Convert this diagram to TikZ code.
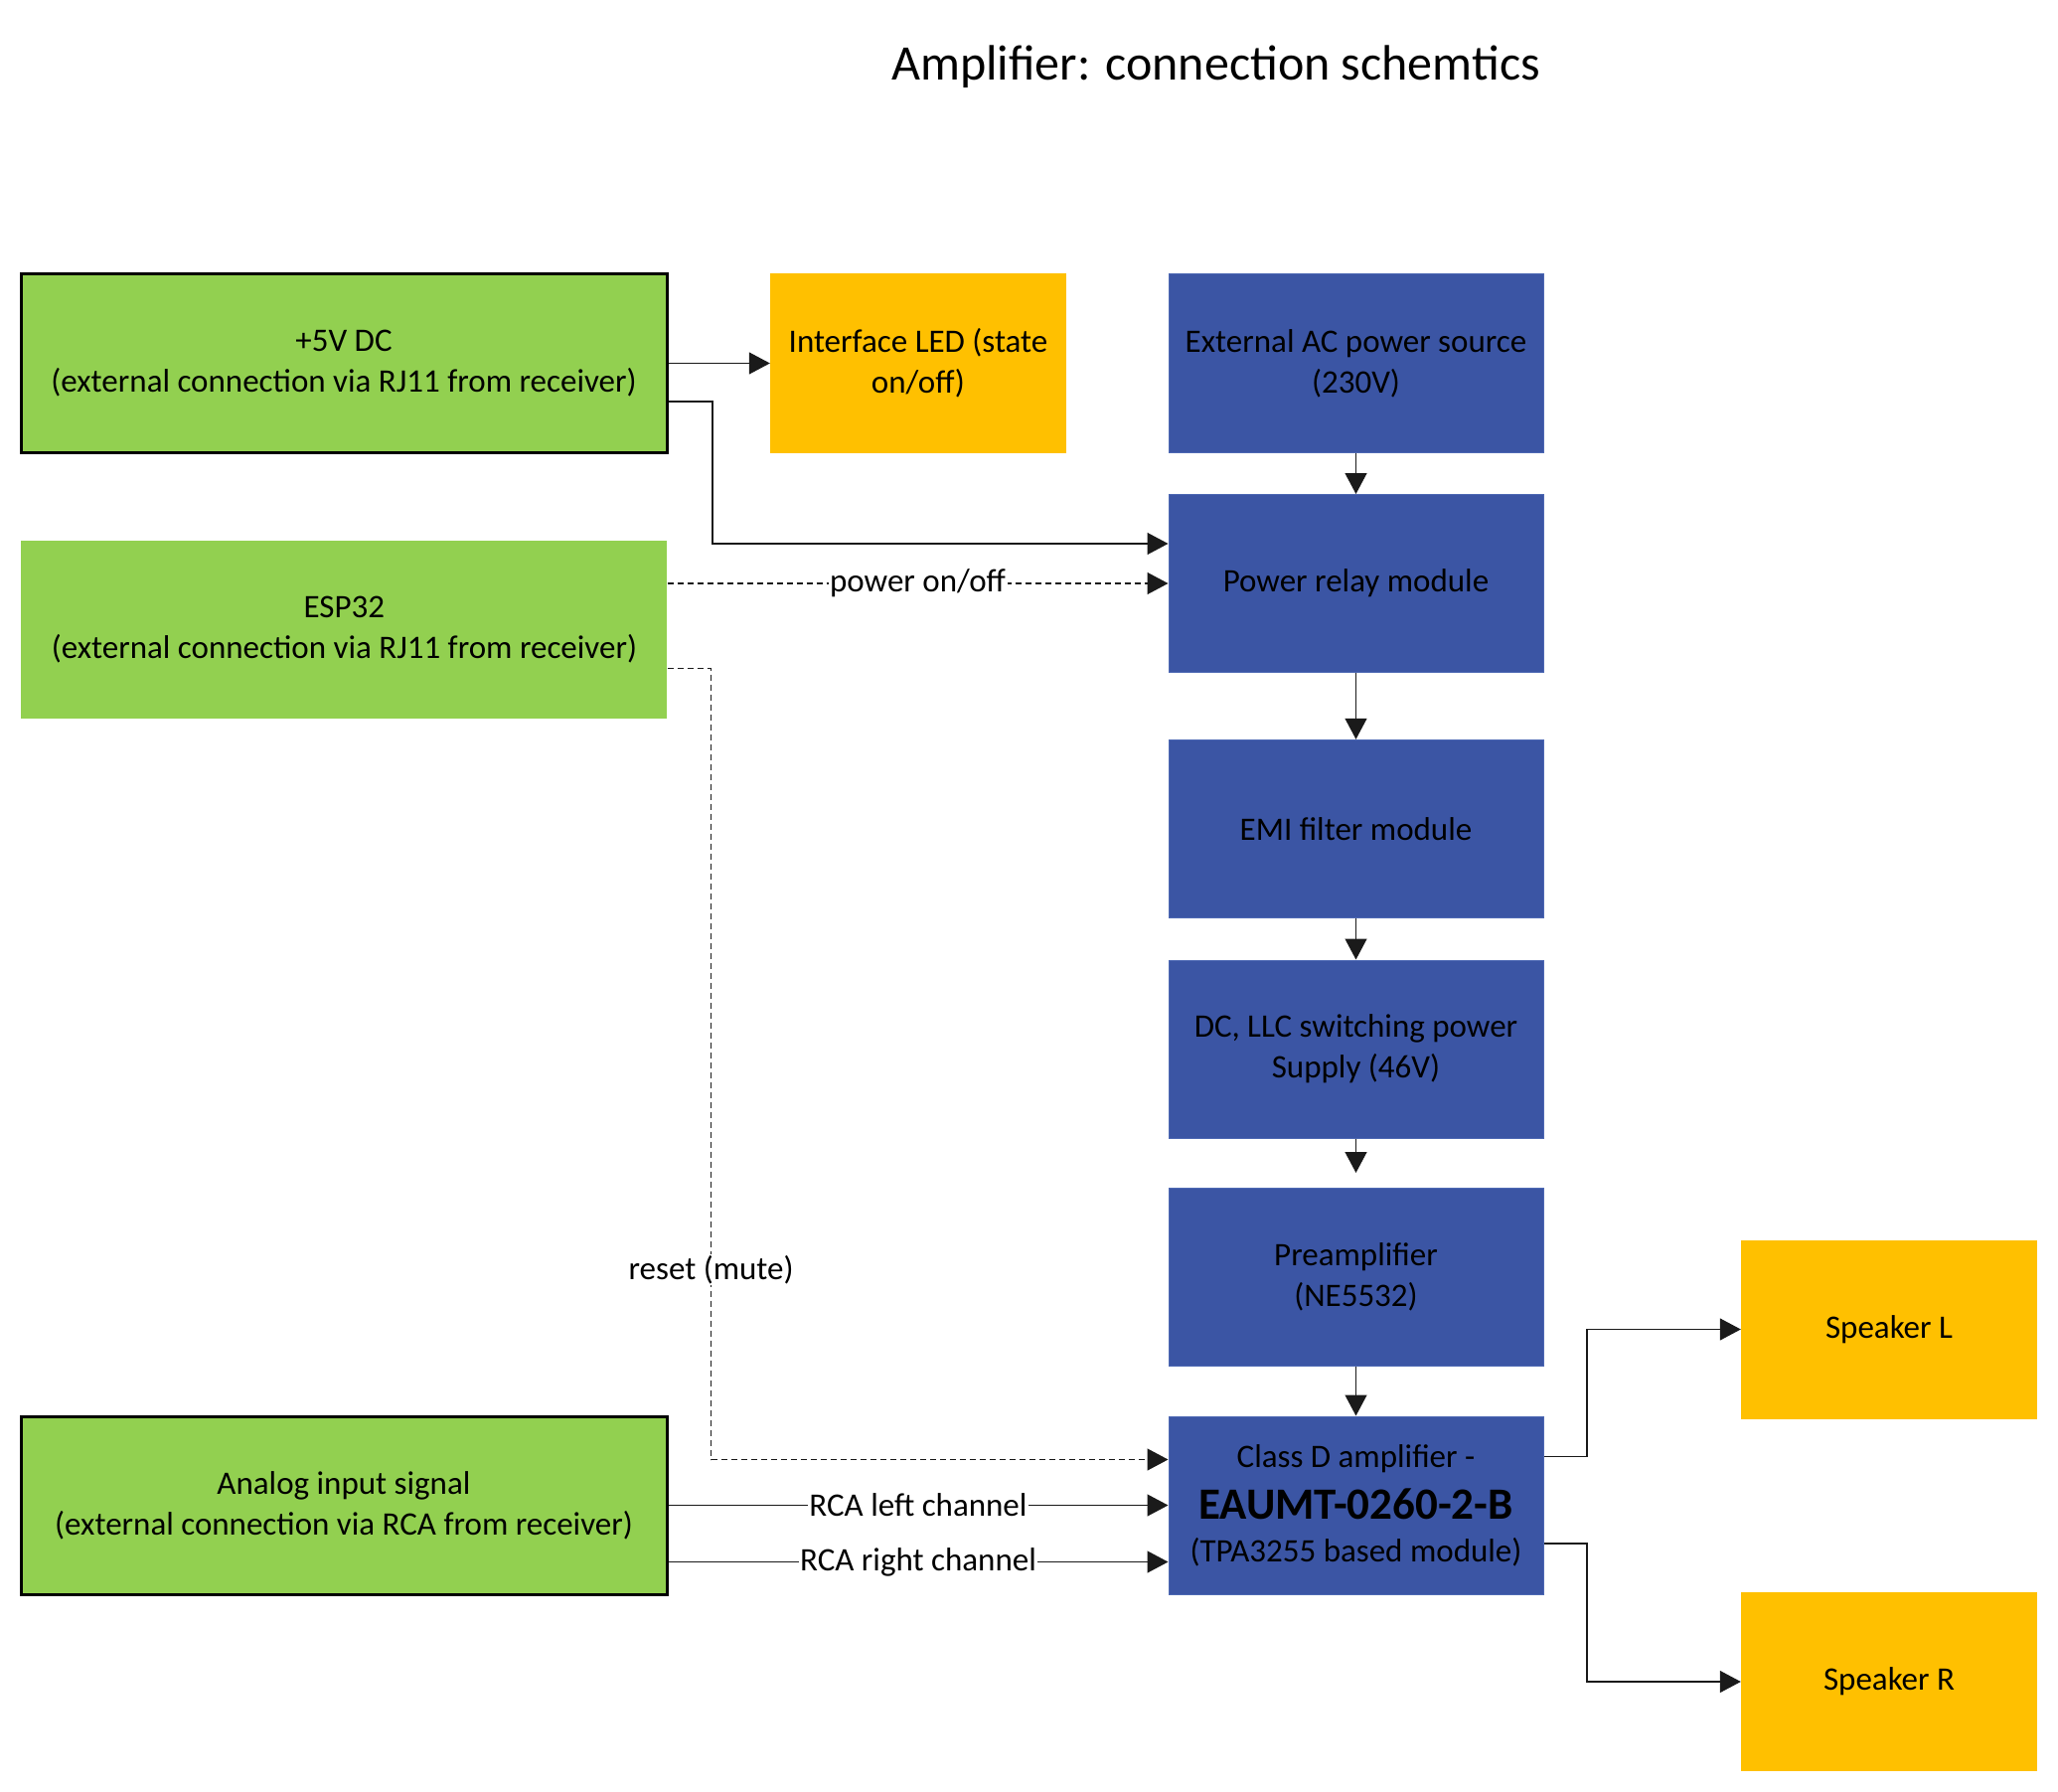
\documentclass[tikz,border=0pt]{standalone}
\usepackage{fontspec}
\setmainfont{Carlito}
\usetikzlibrary{arrows.meta}
\definecolor{grn}{HTML}{92D050}
\definecolor{ylw}{HTML}{FFC000}
\definecolor{blu}{HTML}{3B55A4}
\definecolor{bluedge}{HTML}{4E69B4}
\definecolor{lin}{HTML}{1A1A1A}
\begin{document}
\begin{tikzpicture}[x=1pt,y=-1pt,
  box/.style={rectangle, inner sep=0pt, align=center, text=black,
    font=\fontsize{33}{41}\selectfont},
  greenbox/.style={box, fill=grn, minimum width=650pt, minimum height=179pt},
  framedgreen/.style={greenbox, draw=black, line width=3pt},
  yellowbox/.style={box, fill=ylw, minimum width=298pt, minimum height=180pt},
  bluebox/.style={box, fill=blu, draw=bluedge, line width=1pt, minimum width=377pt, minimum height=179pt},
  conn/.style={draw=lin, line width=1.3pt, -{Triangle[length=21pt,width=22pt]}},
  dsh/.style={dash pattern=on 6pt off 4pt},
  lbl/.style={fill=white, inner sep=1.5pt, text=black, font=\fontsize{33}{40}\selectfont},
]
\useasboundingbox (0,0) rectangle (2071,1803);

\node[font=\fontsize{50}{60}\selectfont] (title) at (1223.5,67) {Amplifier: connection schemtics};

\node[framedgreen] (v5) at (346,365.5) {+5V DC\\(external connection via RJ11 from receiver)};
\node[yellowbox] (led) at (924,365.5) {Interface LED (state\\on/off)};
\node[greenbox] (esp) at (346.4,633.5) {ESP32\\(external connection via RJ11 from receiver)};
\node[framedgreen] (ana) at (346,1514.5) {Analog input signal\\(external connection via RCA from receiver)};

\node[bluebox] (ac) at (1364.5,365.5) {External AC power source\\(230V)};
\node[bluebox] (relay) at (1364.5,587) {Power relay module};
\node[bluebox] (emi) at (1364.5,833.8) {EMI filter module};
\node[bluebox] (llc) at (1364.5,1055.5) {DC, LLC switching power\\Supply (46V)};
\node[bluebox] (pre) at (1364.5,1285) {Preamplifier\\(NE5532)};
\node[bluebox] (cls) at (1364.5,1514.5) {Class D amplifier -\\[11pt]{\fontsize{45}{50}\selectfont\bfseries EAUMT-0260-2-B}\\[2pt](TPA3255 based module)};

\node[yellowbox] (spl) at (1901,1337.5) {Speaker L};
\node[yellowbox] (spr) at (1901,1692) {Speaker R};

% connectors
\draw[conn] (v5.east) -- (led.west);
\draw[conn] ([yshift=-38.5pt]v5.east) -- ++(44.5pt,0) |- ([yshift=40pt]relay.west);
\draw[conn,dsh] (esp.east |- relay.west) -- node[lbl]{power on/off} (relay.west);
\draw[conn,dsh] ([yshift=-39pt]esp.east) -- ++(44pt,0) |- node[lbl,pos=0.38]{reset (mute)} ([yshift=46pt]cls.west);
\draw[conn] (ana.east) -- node[lbl]{RCA left channel} (cls.west);
\draw[conn] ([yshift=-57pt]ana.east) -- node[lbl]{RCA right channel} ([yshift=-57pt]cls.west);

\draw[conn] (ac.south) -- (relay.north);
\draw[conn] (relay.south) -- (emi.north);
\draw[conn] (emi.south) -- (llc.north);
\draw[conn] (llc.south) -- ([yshift=15pt]pre.north);
\draw[conn] (pre.south) -- (cls.north);

\draw[conn] ([yshift=49pt]cls.east) -- ++(43.4pt,0) |- (spl.west);
\draw[conn] ([yshift=-38.5pt]cls.east) -- ++(43.4pt,0) |- (spr.west);
\end{tikzpicture}
\end{document}
